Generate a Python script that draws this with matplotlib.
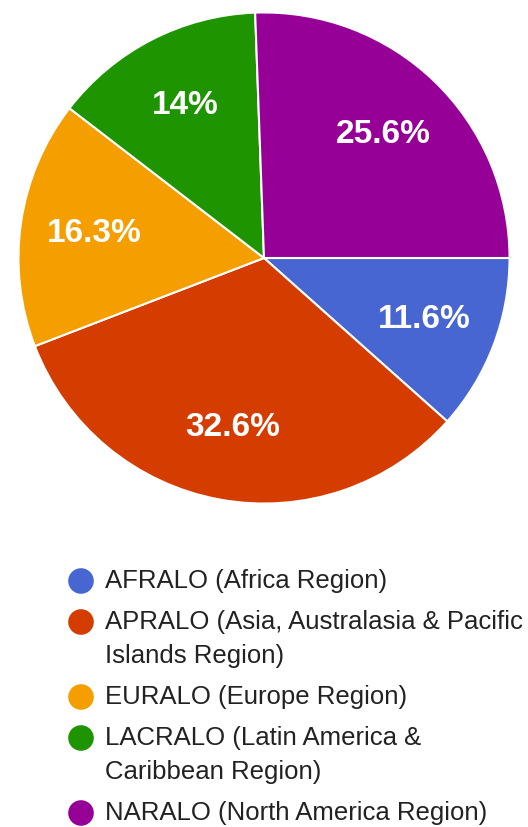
import matplotlib.pyplot as plt

# data
regions = ['AFRALO (Africa Region)',
           'APRALO (Asia, Australasia & Pacific\nIslands Region)',
           'EURALO (Europe Region)',
           'LACRALO (Latin America &\nCaribbean Region)',
           'NARALO (North America Region)']
shares = [11.6, 32.6, 16.3, 14.0, 25.6]
colors = ['#4766d1', '#d43c00', '#f59e00', '#1e9400', '#960096']

plt.rcParams['font.family'] = ['Liberation Sans', 'DejaVu Sans']

fig = plt.figure(figsize=(5.28, 8.27), dpi=100)

# pie
ax = fig.add_axes([16 / 528, 1 - 506 / 827, 496 / 528, 496 / 827])
wedges, texts, autotexts = ax.pie(
    shares, colors=colors, startangle=0, counterclock=False, radius=1,
    autopct=lambda p: '{:.1f}%'.format(p).replace('.0%', '%'),
    pctdistance=0.7,
    wedgeprops=dict(edgecolor='white', linewidth=1.5),
    textprops=dict(color='white', fontsize=24, fontweight='bold'))
ax.set_xlim(-1.01, 1.01)
ax.set_ylim(-1.01, 1.01)
ax.set_aspect('equal')
ax.axis('off')

# legend, drawn by hand so wrapped lines sit under the text
lax = fig.add_axes([0, 0, 1, 1])
lax.set_xlim(0, 528)
lax.set_ylim(827, 0)
lax.axis('off')

y = 581
for lab, c in zip(regions, colors):
    lines = lab.split('\n')
    lax.scatter([81], [y], s=340, color=c, edgecolors='none')
    for i, line in enumerate(lines):
        lax.text(105, y + i * 34, line, fontsize=18.5, color='#222222',
                 va='center', ha='left')
    y += 41 + 34 * (len(lines) - 1)

fig.savefig('out.png', dpi=100)
